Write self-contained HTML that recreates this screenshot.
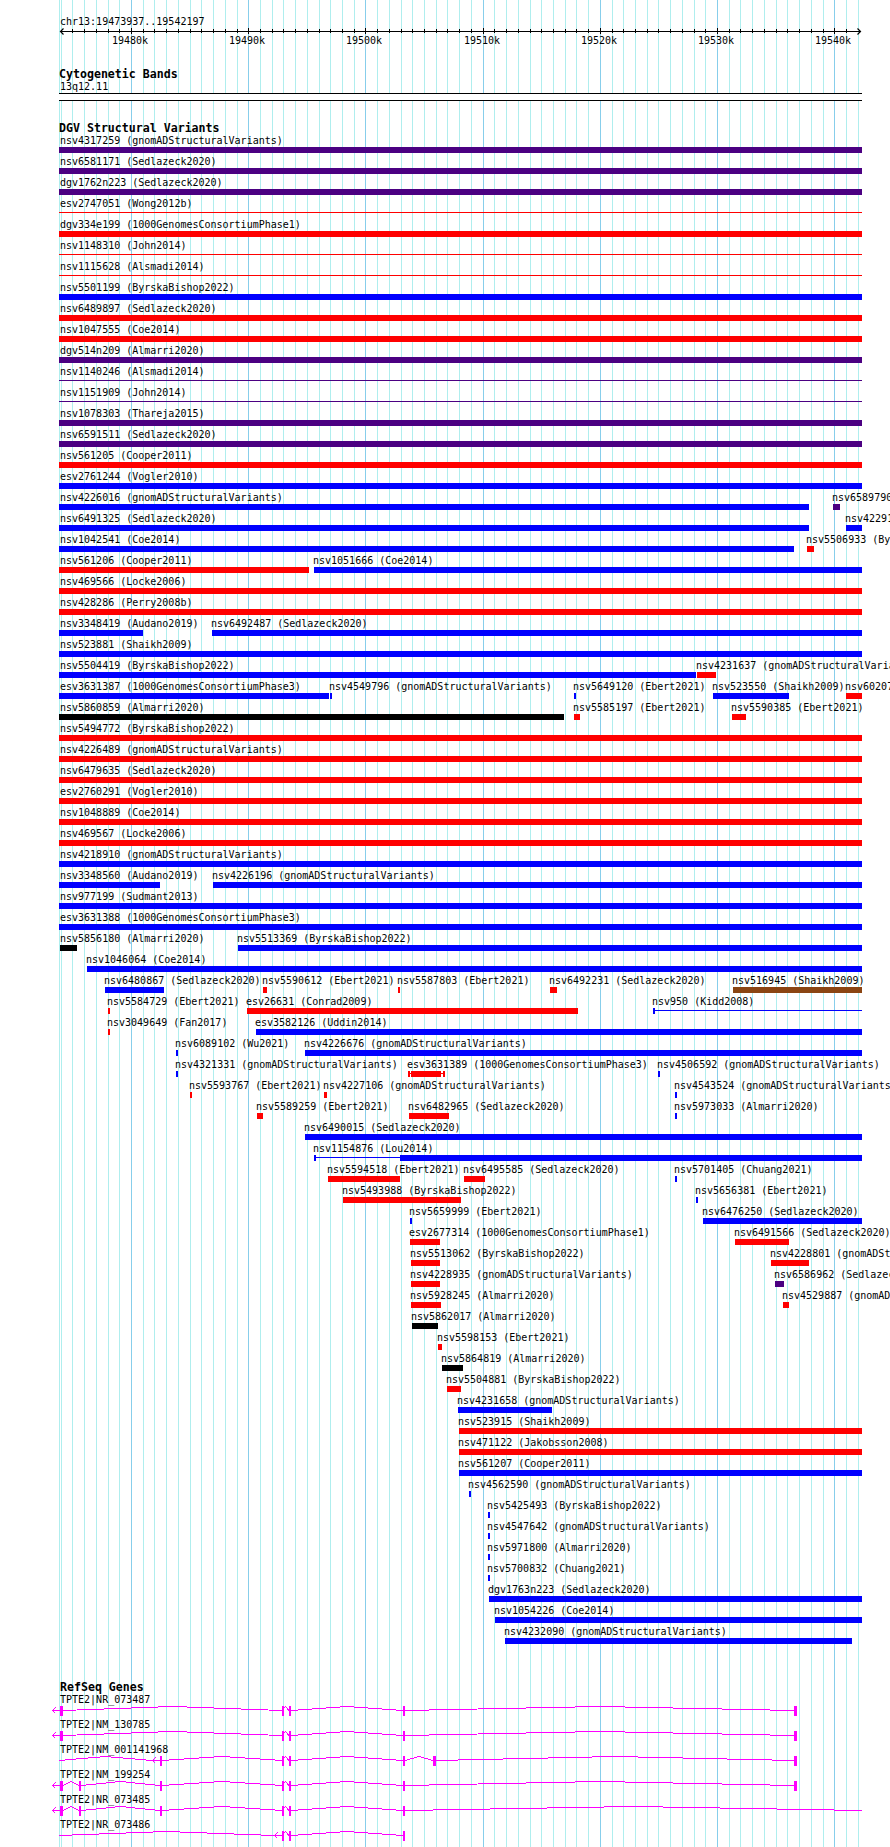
<!DOCTYPE html><html><head><meta charset="utf-8"><title>chr13:19473937..19542197</title><style>
html,body{margin:0;padding:0;background:#fff}
#p{position:relative;width:890px;height:1847px;overflow:hidden;background:#fff}
#p svg{position:absolute;left:0;top:0}
.s,.b{position:absolute;white-space:pre;color:#000;line-height:12px;height:12px}
.s{font-family:"DejaVu Sans Mono","Liberation Mono",monospace;font-size:10px;}
.b{font-family:"DejaVu Sans Mono","Liberation Mono",monospace;font-weight:bold;font-size:11.6px;}
</style></head><body><div id="p">
<svg width="890" height="1847" viewBox="0 0 890 1847" shape-rendering="crispEdges">
<rect x="59" y="0" width="1" height="1847" fill="#afeeee"/>
<rect x="61" y="0" width="1" height="1847" fill="#afeeee"/>
<rect x="72" y="0" width="1" height="1847" fill="#afeeee"/>
<rect x="84" y="0" width="1" height="1847" fill="#afeeee"/>
<rect x="96" y="0" width="1" height="1847" fill="#afeeee"/>
<rect x="108" y="0" width="1" height="1847" fill="#afeeee"/>
<rect x="119" y="0" width="1" height="1847" fill="#afeeee"/>
<rect x="131" y="0" width="1" height="1847" fill="#87ceeb"/>
<rect x="143" y="0" width="1" height="1847" fill="#afeeee"/>
<rect x="154" y="0" width="1" height="1847" fill="#afeeee"/>
<rect x="166" y="0" width="1" height="1847" fill="#afeeee"/>
<rect x="178" y="0" width="1" height="1847" fill="#afeeee"/>
<rect x="190" y="0" width="1" height="1847" fill="#afeeee"/>
<rect x="201" y="0" width="1" height="1847" fill="#afeeee"/>
<rect x="213" y="0" width="1" height="1847" fill="#afeeee"/>
<rect x="225" y="0" width="1" height="1847" fill="#afeeee"/>
<rect x="237" y="0" width="1" height="1847" fill="#afeeee"/>
<rect x="248" y="0" width="1" height="1847" fill="#87ceeb"/>
<rect x="260" y="0" width="1" height="1847" fill="#afeeee"/>
<rect x="272" y="0" width="1" height="1847" fill="#afeeee"/>
<rect x="283" y="0" width="1" height="1847" fill="#afeeee"/>
<rect x="295" y="0" width="1" height="1847" fill="#afeeee"/>
<rect x="307" y="0" width="1" height="1847" fill="#afeeee"/>
<rect x="319" y="0" width="1" height="1847" fill="#afeeee"/>
<rect x="330" y="0" width="1" height="1847" fill="#afeeee"/>
<rect x="342" y="0" width="1" height="1847" fill="#afeeee"/>
<rect x="354" y="0" width="1" height="1847" fill="#afeeee"/>
<rect x="365" y="0" width="1" height="1847" fill="#87ceeb"/>
<rect x="377" y="0" width="1" height="1847" fill="#afeeee"/>
<rect x="389" y="0" width="1" height="1847" fill="#afeeee"/>
<rect x="401" y="0" width="1" height="1847" fill="#afeeee"/>
<rect x="412" y="0" width="1" height="1847" fill="#afeeee"/>
<rect x="424" y="0" width="1" height="1847" fill="#afeeee"/>
<rect x="436" y="0" width="1" height="1847" fill="#afeeee"/>
<rect x="447" y="0" width="1" height="1847" fill="#afeeee"/>
<rect x="459" y="0" width="1" height="1847" fill="#afeeee"/>
<rect x="471" y="0" width="1" height="1847" fill="#afeeee"/>
<rect x="483" y="0" width="1" height="1847" fill="#87ceeb"/>
<rect x="494" y="0" width="1" height="1847" fill="#afeeee"/>
<rect x="506" y="0" width="1" height="1847" fill="#afeeee"/>
<rect x="518" y="0" width="1" height="1847" fill="#afeeee"/>
<rect x="530" y="0" width="1" height="1847" fill="#afeeee"/>
<rect x="541" y="0" width="1" height="1847" fill="#afeeee"/>
<rect x="553" y="0" width="1" height="1847" fill="#afeeee"/>
<rect x="565" y="0" width="1" height="1847" fill="#afeeee"/>
<rect x="576" y="0" width="1" height="1847" fill="#afeeee"/>
<rect x="588" y="0" width="1" height="1847" fill="#afeeee"/>
<rect x="600" y="0" width="1" height="1847" fill="#87ceeb"/>
<rect x="612" y="0" width="1" height="1847" fill="#afeeee"/>
<rect x="623" y="0" width="1" height="1847" fill="#afeeee"/>
<rect x="635" y="0" width="1" height="1847" fill="#afeeee"/>
<rect x="647" y="0" width="1" height="1847" fill="#afeeee"/>
<rect x="658" y="0" width="1" height="1847" fill="#afeeee"/>
<rect x="670" y="0" width="1" height="1847" fill="#afeeee"/>
<rect x="682" y="0" width="1" height="1847" fill="#afeeee"/>
<rect x="694" y="0" width="1" height="1847" fill="#afeeee"/>
<rect x="705" y="0" width="1" height="1847" fill="#afeeee"/>
<rect x="717" y="0" width="1" height="1847" fill="#87ceeb"/>
<rect x="729" y="0" width="1" height="1847" fill="#afeeee"/>
<rect x="740" y="0" width="1" height="1847" fill="#afeeee"/>
<rect x="752" y="0" width="1" height="1847" fill="#afeeee"/>
<rect x="764" y="0" width="1" height="1847" fill="#afeeee"/>
<rect x="776" y="0" width="1" height="1847" fill="#afeeee"/>
<rect x="787" y="0" width="1" height="1847" fill="#afeeee"/>
<rect x="799" y="0" width="1" height="1847" fill="#afeeee"/>
<rect x="811" y="0" width="1" height="1847" fill="#afeeee"/>
<rect x="823" y="0" width="1" height="1847" fill="#afeeee"/>
<rect x="834" y="0" width="1" height="1847" fill="#87ceeb"/>
<rect x="846" y="0" width="1" height="1847" fill="#afeeee"/>
<rect x="858" y="0" width="1" height="1847" fill="#afeeee"/>
<rect x="60" y="31" width="801" height="1" fill="#000000"/>
<rect x="72" y="29" width="1" height="4" fill="#000000"/>
<rect x="84" y="29" width="1" height="4" fill="#000000"/>
<rect x="96" y="29" width="1" height="4" fill="#000000"/>
<rect x="108" y="29" width="1" height="4" fill="#000000"/>
<rect x="119" y="29" width="1" height="4" fill="#000000"/>
<rect x="131" y="28" width="1" height="6" fill="#000000"/>
<rect x="143" y="29" width="1" height="4" fill="#000000"/>
<rect x="154" y="29" width="1" height="4" fill="#000000"/>
<rect x="166" y="29" width="1" height="4" fill="#000000"/>
<rect x="178" y="29" width="1" height="4" fill="#000000"/>
<rect x="190" y="29" width="1" height="4" fill="#000000"/>
<rect x="201" y="29" width="1" height="4" fill="#000000"/>
<rect x="213" y="29" width="1" height="4" fill="#000000"/>
<rect x="225" y="29" width="1" height="4" fill="#000000"/>
<rect x="237" y="29" width="1" height="4" fill="#000000"/>
<rect x="248" y="28" width="1" height="6" fill="#000000"/>
<rect x="260" y="29" width="1" height="4" fill="#000000"/>
<rect x="272" y="29" width="1" height="4" fill="#000000"/>
<rect x="283" y="29" width="1" height="4" fill="#000000"/>
<rect x="295" y="29" width="1" height="4" fill="#000000"/>
<rect x="307" y="29" width="1" height="4" fill="#000000"/>
<rect x="319" y="29" width="1" height="4" fill="#000000"/>
<rect x="330" y="29" width="1" height="4" fill="#000000"/>
<rect x="342" y="29" width="1" height="4" fill="#000000"/>
<rect x="354" y="29" width="1" height="4" fill="#000000"/>
<rect x="365" y="28" width="1" height="6" fill="#000000"/>
<rect x="377" y="29" width="1" height="4" fill="#000000"/>
<rect x="389" y="29" width="1" height="4" fill="#000000"/>
<rect x="401" y="29" width="1" height="4" fill="#000000"/>
<rect x="412" y="29" width="1" height="4" fill="#000000"/>
<rect x="424" y="29" width="1" height="4" fill="#000000"/>
<rect x="436" y="29" width="1" height="4" fill="#000000"/>
<rect x="447" y="29" width="1" height="4" fill="#000000"/>
<rect x="459" y="29" width="1" height="4" fill="#000000"/>
<rect x="471" y="29" width="1" height="4" fill="#000000"/>
<rect x="483" y="28" width="1" height="6" fill="#000000"/>
<rect x="494" y="29" width="1" height="4" fill="#000000"/>
<rect x="506" y="29" width="1" height="4" fill="#000000"/>
<rect x="518" y="29" width="1" height="4" fill="#000000"/>
<rect x="530" y="29" width="1" height="4" fill="#000000"/>
<rect x="541" y="29" width="1" height="4" fill="#000000"/>
<rect x="553" y="29" width="1" height="4" fill="#000000"/>
<rect x="565" y="29" width="1" height="4" fill="#000000"/>
<rect x="576" y="29" width="1" height="4" fill="#000000"/>
<rect x="588" y="29" width="1" height="4" fill="#000000"/>
<rect x="600" y="28" width="1" height="6" fill="#000000"/>
<rect x="612" y="29" width="1" height="4" fill="#000000"/>
<rect x="623" y="29" width="1" height="4" fill="#000000"/>
<rect x="635" y="29" width="1" height="4" fill="#000000"/>
<rect x="647" y="29" width="1" height="4" fill="#000000"/>
<rect x="658" y="29" width="1" height="4" fill="#000000"/>
<rect x="670" y="29" width="1" height="4" fill="#000000"/>
<rect x="682" y="29" width="1" height="4" fill="#000000"/>
<rect x="694" y="29" width="1" height="4" fill="#000000"/>
<rect x="705" y="29" width="1" height="4" fill="#000000"/>
<rect x="717" y="28" width="1" height="6" fill="#000000"/>
<rect x="729" y="29" width="1" height="4" fill="#000000"/>
<rect x="740" y="29" width="1" height="4" fill="#000000"/>
<rect x="752" y="29" width="1" height="4" fill="#000000"/>
<rect x="764" y="29" width="1" height="4" fill="#000000"/>
<rect x="776" y="29" width="1" height="4" fill="#000000"/>
<rect x="787" y="29" width="1" height="4" fill="#000000"/>
<rect x="799" y="29" width="1" height="4" fill="#000000"/>
<rect x="811" y="29" width="1" height="4" fill="#000000"/>
<rect x="823" y="29" width="1" height="4" fill="#000000"/>
<rect x="834" y="28" width="1" height="6" fill="#000000"/>
<rect x="846" y="29" width="1" height="4" fill="#000000"/>
<path d="M63.5 28.5L60.5 31.5L63.5 34.5M857.5 28.5L860.5 31.5L857.5 34.5" fill="none" stroke="#000" stroke-width="1.2" shape-rendering="geometricPrecision"/>
<rect x="59" y="93" width="803" height="8" fill="#fff"/>
<rect x="59" y="93" width="803" height="1" fill="#000000"/>
<rect x="59" y="100" width="803" height="1" fill="#000000"/>
<rect x="59" y="147" width="803" height="6" fill="#4b0082"/>
<rect x="59" y="168" width="803" height="6" fill="#4b0082"/>
<rect x="59" y="189" width="803" height="6" fill="#4b0082"/>
<rect x="59" y="212" width="803" height="1" fill="#ff0000"/>
<rect x="59" y="231" width="803" height="6" fill="#ff0000"/>
<rect x="59" y="254" width="803" height="1" fill="#ff0000"/>
<rect x="59" y="275" width="803" height="1" fill="#ff0000"/>
<rect x="59" y="294" width="803" height="6" fill="#0000ff"/>
<rect x="59" y="315" width="803" height="6" fill="#ff0000"/>
<rect x="59" y="336" width="803" height="6" fill="#ff0000"/>
<rect x="59" y="357" width="803" height="6" fill="#4b0082"/>
<rect x="59" y="380" width="803" height="1" fill="#4b0082"/>
<rect x="59" y="401" width="803" height="1" fill="#4b0082"/>
<rect x="59" y="420" width="803" height="6" fill="#4b0082"/>
<rect x="59" y="441" width="803" height="6" fill="#4b0082"/>
<rect x="59" y="462" width="803" height="6" fill="#ff0000"/>
<rect x="59" y="483" width="803" height="6" fill="#0000ff"/>
<rect x="59" y="504" width="750" height="6" fill="#0000ff"/>
<rect x="833" y="504" width="7" height="6" fill="#4b0082"/>
<rect x="59" y="525" width="750" height="6" fill="#0000ff"/>
<rect x="846" y="525" width="16" height="6" fill="#0000ff"/>
<rect x="59" y="546" width="735" height="6" fill="#0000ff"/>
<rect x="807" y="546" width="7" height="6" fill="#ff0000"/>
<rect x="59" y="567" width="250" height="6" fill="#ff0000"/>
<rect x="314" y="567" width="548" height="6" fill="#0000ff"/>
<rect x="59" y="588" width="803" height="6" fill="#ff0000"/>
<rect x="59" y="609" width="803" height="6" fill="#ff0000"/>
<rect x="59" y="630" width="84" height="6" fill="#0000ff"/>
<rect x="212" y="630" width="650" height="6" fill="#0000ff"/>
<rect x="59" y="651" width="803" height="6" fill="#0000ff"/>
<rect x="59" y="672" width="637" height="6" fill="#0000ff"/>
<rect x="697" y="672" width="19" height="6" fill="#ff0000"/>
<rect x="59" y="693" width="270" height="6" fill="#0000ff"/>
<rect x="330" y="693" width="2" height="6" fill="#0000ff"/>
<rect x="574" y="693" width="2" height="6" fill="#0000ff"/>
<rect x="713" y="693" width="76" height="6" fill="#0000ff"/>
<rect x="846" y="693" width="16" height="6" fill="#ff0000"/>
<rect x="59" y="714" width="505" height="6" fill="#000000"/>
<rect x="574" y="714" width="6" height="6" fill="#ff0000"/>
<rect x="732" y="714" width="14" height="6" fill="#ff0000"/>
<rect x="59" y="735" width="803" height="6" fill="#ff0000"/>
<rect x="59" y="756" width="803" height="6" fill="#ff0000"/>
<rect x="59" y="777" width="803" height="6" fill="#ff0000"/>
<rect x="59" y="798" width="803" height="6" fill="#ff0000"/>
<rect x="59" y="819" width="803" height="6" fill="#ff0000"/>
<rect x="59" y="840" width="803" height="6" fill="#ff0000"/>
<rect x="59" y="861" width="803" height="6" fill="#0000ff"/>
<rect x="59" y="882" width="101" height="6" fill="#0000ff"/>
<rect x="213" y="882" width="649" height="6" fill="#0000ff"/>
<rect x="59" y="903" width="803" height="6" fill="#0000ff"/>
<rect x="59" y="924" width="803" height="6" fill="#0000ff"/>
<rect x="60" y="945" width="17" height="6" fill="#000000"/>
<rect x="238" y="945" width="624" height="6" fill="#0000ff"/>
<rect x="87" y="966" width="775" height="6" fill="#0000ff"/>
<rect x="105" y="987" width="59" height="6" fill="#0000ff"/>
<rect x="263" y="987" width="4" height="6" fill="#ff0000"/>
<rect x="398" y="987" width="2" height="6" fill="#ff0000"/>
<rect x="550" y="987" width="7" height="6" fill="#ff0000"/>
<rect x="733" y="987" width="129" height="6" fill="#8b4513"/>
<rect x="108" y="1008" width="2" height="6" fill="#ff0000"/>
<rect x="247" y="1008" width="331" height="6" fill="#ff0000"/>
<rect x="653" y="1008" width="2" height="6" fill="#0000ff"/>
<rect x="653" y="1010" width="209" height="1" fill="#0000ff"/>
<rect x="108" y="1029" width="2" height="6" fill="#ff0000"/>
<rect x="256" y="1029" width="606" height="6" fill="#0000ff"/>
<rect x="176" y="1050" width="2" height="6" fill="#0000ff"/>
<rect x="305" y="1050" width="557" height="6" fill="#0000ff"/>
<rect x="176" y="1071" width="2" height="6" fill="#0000ff"/>
<rect x="408" y="1071" width="2" height="6" fill="#ff0000"/>
<rect x="443" y="1071" width="2" height="6" fill="#ff0000"/>
<rect x="408" y="1073" width="37" height="1" fill="#ff0000"/>
<rect x="411" y="1071" width="30" height="6" fill="#ff0000"/>
<rect x="658" y="1071" width="2" height="6" fill="#0000ff"/>
<rect x="190" y="1092" width="2" height="6" fill="#ff0000"/>
<rect x="324" y="1092" width="3" height="6" fill="#ff0000"/>
<rect x="675" y="1092" width="2" height="6" fill="#0000ff"/>
<rect x="257" y="1113" width="6" height="6" fill="#ff0000"/>
<rect x="409" y="1113" width="40" height="6" fill="#ff0000"/>
<rect x="675" y="1113" width="2" height="6" fill="#0000ff"/>
<rect x="305" y="1134" width="557" height="6" fill="#0000ff"/>
<rect x="314" y="1155" width="2" height="6" fill="#0000ff"/>
<rect x="314" y="1157" width="86" height="1" fill="#0000ff"/>
<rect x="400" y="1155" width="462" height="6" fill="#0000ff"/>
<rect x="328" y="1176" width="72" height="6" fill="#ff0000"/>
<rect x="464" y="1176" width="21" height="6" fill="#ff0000"/>
<rect x="675" y="1176" width="2" height="6" fill="#0000ff"/>
<rect x="343" y="1197" width="118" height="6" fill="#ff0000"/>
<rect x="696" y="1197" width="2" height="6" fill="#0000ff"/>
<rect x="410" y="1218" width="2" height="6" fill="#0000ff"/>
<rect x="703" y="1218" width="159" height="6" fill="#0000ff"/>
<rect x="410" y="1239" width="30" height="6" fill="#ff0000"/>
<rect x="735" y="1239" width="54" height="6" fill="#ff0000"/>
<rect x="411" y="1260" width="29" height="6" fill="#ff0000"/>
<rect x="771" y="1260" width="38" height="6" fill="#ff0000"/>
<rect x="411" y="1281" width="29" height="6" fill="#ff0000"/>
<rect x="775" y="1281" width="9" height="6" fill="#4b0082"/>
<rect x="411" y="1302" width="30" height="6" fill="#ff0000"/>
<rect x="783" y="1302" width="6" height="6" fill="#ff0000"/>
<rect x="412" y="1323" width="26" height="6" fill="#000000"/>
<rect x="438" y="1344" width="4" height="6" fill="#ff0000"/>
<rect x="442" y="1365" width="21" height="6" fill="#000000"/>
<rect x="447" y="1386" width="14" height="6" fill="#ff0000"/>
<rect x="458" y="1407" width="94" height="6" fill="#0000ff"/>
<rect x="459" y="1428" width="403" height="6" fill="#ff0000"/>
<rect x="459" y="1449" width="403" height="6" fill="#ff0000"/>
<rect x="459" y="1470" width="403" height="6" fill="#0000ff"/>
<rect x="469" y="1491" width="2" height="6" fill="#0000ff"/>
<rect x="488" y="1512" width="2" height="6" fill="#0000ff"/>
<rect x="488" y="1533" width="2" height="6" fill="#0000ff"/>
<rect x="488" y="1554" width="2" height="6" fill="#0000ff"/>
<rect x="488" y="1575" width="2" height="6" fill="#0000ff"/>
<rect x="489" y="1596" width="373" height="6" fill="#0000ff"/>
<rect x="495" y="1617" width="367" height="6" fill="#0000ff"/>
<rect x="505" y="1638" width="347" height="6" fill="#0000ff"/>
<path d="M63 1710.5L172.5 1706.5L282 1710.5M282 1710.5L285.5 1706.5L289 1710.5M291 1710.5L347.0 1706.5L403 1710.5M405 1710.5L599.5 1706.5L794 1710.5M52.5 1710.5L60 1710.5M55.5 1707.5L52.5 1710.5L55.5 1713.5" fill="none" stroke="#ff00ff" stroke-width="1"/>
<rect x="60" y="1706" width="3" height="10" fill="#ff00ff"/>
<rect x="282" y="1706" width="2" height="10" fill="#ff00ff"/>
<rect x="289" y="1706" width="2" height="10" fill="#ff00ff"/>
<rect x="403" y="1706" width="2" height="10" fill="#ff00ff"/>
<rect x="794" y="1706" width="3" height="10" fill="#ff00ff"/>
<path d="M63 1735.5L172.5 1731.5L282 1735.5M282 1735.5L285.5 1731.5L289 1735.5M291 1735.5L347.0 1731.5L403 1735.5M405 1735.5L599.5 1731.5L794 1735.5M52.5 1735.5L60 1735.5M55.5 1732.5L52.5 1735.5L55.5 1738.5" fill="none" stroke="#ff00ff" stroke-width="1"/>
<rect x="60" y="1731" width="3" height="10" fill="#ff00ff"/>
<rect x="282" y="1731" width="2" height="10" fill="#ff00ff"/>
<rect x="289" y="1731" width="2" height="10" fill="#ff00ff"/>
<rect x="403" y="1731" width="2" height="10" fill="#ff00ff"/>
<rect x="794" y="1731" width="3" height="10" fill="#ff00ff"/>
<path d="M162 1760.5L222.0 1756.5L282 1760.5M282 1760.5L285.5 1756.5L289 1760.5M291 1760.5L347.0 1756.5L403 1760.5M405 1760.5L419.0 1756.5L433 1760.5M436 1760.5L615.0 1756.5L794 1760.5M152.5 1760.5L160 1760.5M155.5 1757.5L152.5 1760.5L155.5 1763.5M59 1760.5L105.5 1756.5L152 1760.5" fill="none" stroke="#ff00ff" stroke-width="1"/>
<rect x="160" y="1756" width="2" height="10" fill="#ff00ff"/>
<rect x="282" y="1756" width="2" height="10" fill="#ff00ff"/>
<rect x="289" y="1756" width="2" height="10" fill="#ff00ff"/>
<rect x="403" y="1756" width="2" height="10" fill="#ff00ff"/>
<rect x="433" y="1756" width="3" height="10" fill="#ff00ff"/>
<rect x="794" y="1756" width="3" height="10" fill="#ff00ff"/>
<path d="M63 1785.5L71.0 1781.5L79 1785.5M81 1785.5L120.5 1781.5L160 1785.5M162 1785.5L222.0 1781.5L282 1785.5M282 1785.5L285.5 1781.5L289 1785.5M291 1785.5L347.0 1781.5L403 1785.5M405 1785.5L599.5 1781.5L794 1785.5M52.5 1785.5L60 1785.5M55.5 1782.5L52.5 1785.5L55.5 1788.5" fill="none" stroke="#ff00ff" stroke-width="1"/>
<rect x="60" y="1781" width="3" height="10" fill="#ff00ff"/>
<rect x="79" y="1781" width="2" height="10" fill="#ff00ff"/>
<rect x="160" y="1781" width="2" height="10" fill="#ff00ff"/>
<rect x="282" y="1781" width="2" height="10" fill="#ff00ff"/>
<rect x="289" y="1781" width="2" height="10" fill="#ff00ff"/>
<rect x="403" y="1781" width="2" height="10" fill="#ff00ff"/>
<rect x="794" y="1781" width="3" height="10" fill="#ff00ff"/>
<path d="M63 1810.5L71.0 1806.5L79 1810.5M81 1810.5L120.5 1806.5L160 1810.5M162 1810.5L222.0 1806.5L282 1810.5M282 1810.5L285.5 1806.5L289 1810.5M291 1810.5L347.0 1806.5L403 1810.5M52.5 1810.5L60 1810.5M55.5 1807.5L52.5 1810.5L55.5 1813.5M405 1810.5L633.5 1806.5L862 1810.5" fill="none" stroke="#ff00ff" stroke-width="1"/>
<rect x="60" y="1806" width="3" height="10" fill="#ff00ff"/>
<rect x="79" y="1806" width="2" height="10" fill="#ff00ff"/>
<rect x="160" y="1806" width="2" height="10" fill="#ff00ff"/>
<rect x="282" y="1806" width="2" height="10" fill="#ff00ff"/>
<rect x="289" y="1806" width="2" height="10" fill="#ff00ff"/>
<rect x="403" y="1806" width="2" height="10" fill="#ff00ff"/>
<path d="M282 1835.5L285.5 1831.5L289 1835.5M291 1835.5L347.0 1831.5L403 1835.5M274.5 1835.5L282 1835.5M277.5 1832.5L274.5 1835.5L277.5 1838.5M59 1835.5L166.5 1831.5L274 1835.5" fill="none" stroke="#ff00ff" stroke-width="1"/>
<rect x="282" y="1831" width="2" height="10" fill="#ff00ff"/>
<rect x="289" y="1831" width="2" height="10" fill="#ff00ff"/>
<rect x="403" y="1831" width="2" height="10" fill="#ff00ff"/>
</svg>
<div class="s" style="left:60px;top:135px">nsv4317259 (gnomADStructuralVariants)</div>
<div class="s" style="left:60px;top:156px">nsv6581171 (Sedlazeck2020)</div>
<div class="s" style="left:60px;top:177px">dgv1762n223 (Sedlazeck2020)</div>
<div class="s" style="left:60px;top:198px">esv2747051 (Wong2012b)</div>
<div class="s" style="left:60px;top:219px">dgv334e199 (1000GenomesConsortiumPhase1)</div>
<div class="s" style="left:60px;top:240px">nsv1148310 (John2014)</div>
<div class="s" style="left:60px;top:261px">nsv1115628 (Alsmadi2014)</div>
<div class="s" style="left:60px;top:282px">nsv5501199 (ByrskaBishop2022)</div>
<div class="s" style="left:60px;top:303px">nsv6489897 (Sedlazeck2020)</div>
<div class="s" style="left:60px;top:324px">nsv1047555 (Coe2014)</div>
<div class="s" style="left:60px;top:345px">dgv514n209 (Almarri2020)</div>
<div class="s" style="left:60px;top:366px">nsv1140246 (Alsmadi2014)</div>
<div class="s" style="left:60px;top:387px">nsv1151909 (John2014)</div>
<div class="s" style="left:60px;top:408px">nsv1078303 (Thareja2015)</div>
<div class="s" style="left:60px;top:429px">nsv6591511 (Sedlazeck2020)</div>
<div class="s" style="left:60px;top:450px">nsv561205 (Cooper2011)</div>
<div class="s" style="left:60px;top:471px">esv2761244 (Vogler2010)</div>
<div class="s" style="left:60px;top:492px">nsv4226016 (gnomADStructuralVariants)</div>
<div class="s" style="left:832px;top:492px">nsv6589790 (Sedlazeck2020)</div>
<div class="s" style="left:60px;top:513px">nsv6491325 (Sedlazeck2020)</div>
<div class="s" style="left:845px;top:513px">nsv4229155 (gnomADStructuralVariants)</div>
<div class="s" style="left:60px;top:534px">nsv1042541 (Coe2014)</div>
<div class="s" style="left:806px;top:534px">nsv5506933 (ByrskaBishop2022)</div>
<div class="s" style="left:60px;top:555px">nsv561206 (Cooper2011)</div>
<div class="s" style="left:313px;top:555px">nsv1051666 (Coe2014)</div>
<div class="s" style="left:60px;top:576px">nsv469566 (Locke2006)</div>
<div class="s" style="left:60px;top:597px">nsv428286 (Perry2008b)</div>
<div class="s" style="left:60px;top:618px">nsv3348419 (Audano2019)</div>
<div class="s" style="left:211px;top:618px">nsv6492487 (Sedlazeck2020)</div>
<div class="s" style="left:60px;top:639px">nsv523881 (Shaikh2009)</div>
<div class="s" style="left:60px;top:660px">nsv5504419 (ByrskaBishop2022)</div>
<div class="s" style="left:696px;top:660px">nsv4231637 (gnomADStructuralVariants)</div>
<div class="s" style="left:60px;top:681px">esv3631387 (1000GenomesConsortiumPhase3)</div>
<div class="s" style="left:329px;top:681px">nsv4549796 (gnomADStructuralVariants)</div>
<div class="s" style="left:573px;top:681px">nsv5649120 (Ebert2021)</div>
<div class="s" style="left:712px;top:681px">nsv523550 (Shaikh2009)</div>
<div class="s" style="left:845px;top:681px">nsv6020712 (Ebert2021)</div>
<div class="s" style="left:60px;top:702px">nsv5860859 (Almarri2020)</div>
<div class="s" style="left:573px;top:702px">nsv5585197 (Ebert2021)</div>
<div class="s" style="left:731px;top:702px">nsv5590385 (Ebert2021)</div>
<div class="s" style="left:60px;top:723px">nsv5494772 (ByrskaBishop2022)</div>
<div class="s" style="left:60px;top:744px">nsv4226489 (gnomADStructuralVariants)</div>
<div class="s" style="left:60px;top:765px">nsv6479635 (Sedlazeck2020)</div>
<div class="s" style="left:60px;top:786px">esv2760291 (Vogler2010)</div>
<div class="s" style="left:60px;top:807px">nsv1048889 (Coe2014)</div>
<div class="s" style="left:60px;top:828px">nsv469567 (Locke2006)</div>
<div class="s" style="left:60px;top:849px">nsv4218910 (gnomADStructuralVariants)</div>
<div class="s" style="left:60px;top:870px">nsv3348560 (Audano2019)</div>
<div class="s" style="left:212px;top:870px">nsv4226196 (gnomADStructuralVariants)</div>
<div class="s" style="left:60px;top:891px">nsv977199 (Sudmant2013)</div>
<div class="s" style="left:60px;top:912px">esv3631388 (1000GenomesConsortiumPhase3)</div>
<div class="s" style="left:60px;top:933px">nsv5856180 (Almarri2020)</div>
<div class="s" style="left:237px;top:933px">nsv5513369 (ByrskaBishop2022)</div>
<div class="s" style="left:86px;top:954px">nsv1046064 (Coe2014)</div>
<div class="s" style="left:104px;top:975px">nsv6480867 (Sedlazeck2020)</div>
<div class="s" style="left:262px;top:975px">nsv5590612 (Ebert2021)</div>
<div class="s" style="left:397px;top:975px">nsv5587803 (Ebert2021)</div>
<div class="s" style="left:549px;top:975px">nsv6492231 (Sedlazeck2020)</div>
<div class="s" style="left:732px;top:975px">nsv516945 (Shaikh2009)</div>
<div class="s" style="left:107px;top:996px">nsv5584729 (Ebert2021)</div>
<div class="s" style="left:246px;top:996px">esv26631 (Conrad2009)</div>
<div class="s" style="left:652px;top:996px">nsv950 (Kidd2008)</div>
<div class="s" style="left:107px;top:1017px">nsv3049649 (Fan2017)</div>
<div class="s" style="left:255px;top:1017px">esv3582126 (Uddin2014)</div>
<div class="s" style="left:175px;top:1038px">nsv6089102 (Wu2021)</div>
<div class="s" style="left:304px;top:1038px">nsv4226676 (gnomADStructuralVariants)</div>
<div class="s" style="left:175px;top:1059px">nsv4321331 (gnomADStructuralVariants)</div>
<div class="s" style="left:407px;top:1059px">esv3631389 (1000GenomesConsortiumPhase3)</div>
<div class="s" style="left:657px;top:1059px">nsv4506592 (gnomADStructuralVariants)</div>
<div class="s" style="left:189px;top:1080px">nsv5593767 (Ebert2021)</div>
<div class="s" style="left:323px;top:1080px">nsv4227106 (gnomADStructuralVariants)</div>
<div class="s" style="left:674px;top:1080px">nsv4543524 (gnomADStructuralVariants)</div>
<div class="s" style="left:256px;top:1101px">nsv5589259 (Ebert2021)</div>
<div class="s" style="left:408px;top:1101px">nsv6482965 (Sedlazeck2020)</div>
<div class="s" style="left:674px;top:1101px">nsv5973033 (Almarri2020)</div>
<div class="s" style="left:304px;top:1122px">nsv6490015 (Sedlazeck2020)</div>
<div class="s" style="left:313px;top:1143px">nsv1154876 (Lou2014)</div>
<div class="s" style="left:327px;top:1164px">nsv5594518 (Ebert2021)</div>
<div class="s" style="left:463px;top:1164px">nsv6495585 (Sedlazeck2020)</div>
<div class="s" style="left:674px;top:1164px">nsv5701405 (Chuang2021)</div>
<div class="s" style="left:342px;top:1185px">nsv5493988 (ByrskaBishop2022)</div>
<div class="s" style="left:695px;top:1185px">nsv5656381 (Ebert2021)</div>
<div class="s" style="left:409px;top:1206px">nsv5659999 (Ebert2021)</div>
<div class="s" style="left:702px;top:1206px">nsv6476250 (Sedlazeck2020)</div>
<div class="s" style="left:409px;top:1227px">esv2677314 (1000GenomesConsortiumPhase1)</div>
<div class="s" style="left:734px;top:1227px">nsv6491566 (Sedlazeck2020)</div>
<div class="s" style="left:410px;top:1248px">nsv5513062 (ByrskaBishop2022)</div>
<div class="s" style="left:770px;top:1248px">nsv4228801 (gnomADStructuralVariants)</div>
<div class="s" style="left:410px;top:1269px">nsv4228935 (gnomADStructuralVariants)</div>
<div class="s" style="left:774px;top:1269px">nsv6586962 (Sedlazeck2020)</div>
<div class="s" style="left:410px;top:1290px">nsv5928245 (Almarri2020)</div>
<div class="s" style="left:782px;top:1290px">nsv4529887 (gnomADStructuralVariants)</div>
<div class="s" style="left:411px;top:1311px">nsv5862017 (Almarri2020)</div>
<div class="s" style="left:437px;top:1332px">nsv5598153 (Ebert2021)</div>
<div class="s" style="left:441px;top:1353px">nsv5864819 (Almarri2020)</div>
<div class="s" style="left:446px;top:1374px">nsv5504881 (ByrskaBishop2022)</div>
<div class="s" style="left:457px;top:1395px">nsv4231658 (gnomADStructuralVariants)</div>
<div class="s" style="left:458px;top:1416px">nsv523915 (Shaikh2009)</div>
<div class="s" style="left:458px;top:1437px">nsv471122 (Jakobsson2008)</div>
<div class="s" style="left:458px;top:1458px">nsv561207 (Cooper2011)</div>
<div class="s" style="left:468px;top:1479px">nsv4562590 (gnomADStructuralVariants)</div>
<div class="s" style="left:487px;top:1500px">nsv5425493 (ByrskaBishop2022)</div>
<div class="s" style="left:487px;top:1521px">nsv4547642 (gnomADStructuralVariants)</div>
<div class="s" style="left:487px;top:1542px">nsv5971800 (Almarri2020)</div>
<div class="s" style="left:487px;top:1563px">nsv5700832 (Chuang2021)</div>
<div class="s" style="left:488px;top:1584px">dgv1763n223 (Sedlazeck2020)</div>
<div class="s" style="left:494px;top:1605px">nsv1054226 (Coe2014)</div>
<div class="s" style="left:504px;top:1626px">nsv4232090 (gnomADStructuralVariants)</div>
<div class="s" style="left:60px;top:1694px">TPTE2|NR_073487</div>
<div class="s" style="left:60px;top:1719px">TPTE2|NM_130785</div>
<div class="s" style="left:60px;top:1744px">TPTE2|NM_001141968</div>
<div class="s" style="left:60px;top:1769px">TPTE2|NM_199254</div>
<div class="s" style="left:60px;top:1794px">TPTE2|NR_073485</div>
<div class="s" style="left:60px;top:1819px">TPTE2|NR_073486</div>
<div class="s" style="left:60px;top:16px">chr13:19473937..19542197</div>
<div class="s" style="left:112px;top:35px">19480k</div>
<div class="s" style="left:229px;top:35px">19490k</div>
<div class="s" style="left:346px;top:35px">19500k</div>
<div class="s" style="left:464px;top:35px">19510k</div>
<div class="s" style="left:581px;top:35px">19520k</div>
<div class="s" style="left:698px;top:35px">19530k</div>
<div class="s" style="left:815px;top:35px">19540k</div>
<div class="b" style="left:59px;top:68px">Cytogenetic Bands</div>
<div class="s" style="left:60px;top:81px">13q12.11</div>
<div class="b" style="left:59px;top:122px">DGV Structural Variants</div>
<div class="b" style="left:60px;top:1681px">RefSeq Genes</div>
</div></body></html>
